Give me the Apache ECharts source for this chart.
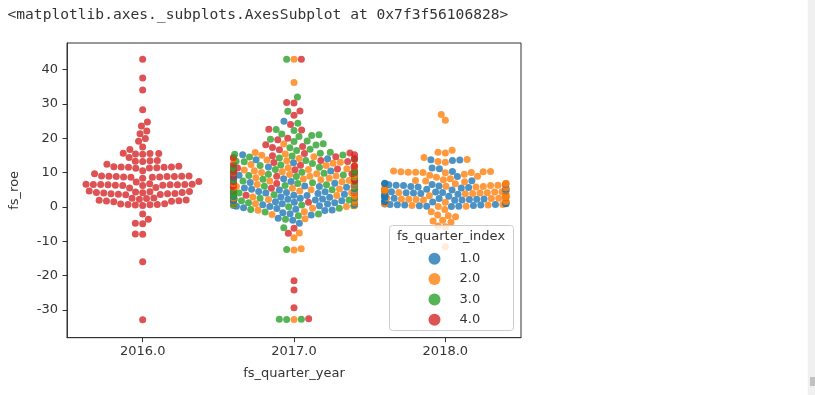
<!DOCTYPE html>
<html><head><meta charset="utf-8">
<script src="https://cdn.jsdelivr.net/npm/echarts@6/dist/echarts.min.js"></script>
<style>html,body{margin:0;padding:0;background:#fff}#c{width:815px;height:395px}</style>
</head><body><div id="c"></div>
<script>
// ---------- data ----------
const years = ['2016.0', '2017.0', '2018.0'];
const quarters = ['1.0', '2.0', '3.0', '4.0'];
const quarterColors = ['#1f77b4', '#ff7f0e', '#2ca02c', '#d62728'];
const yTicks = [-30, -20, -10, 0, 10, 20, 30, 40];

// fs_roe values, 2016 (only quarter 4.0)
const roe2016_q4 = [43.0, 37.5, 34.0, 28.3, 24.7, 23.5, 22.1, 21.3, 19.9, 19.1, 17.4, 16.7,
  15.6, 15.5, 15.5, 15.4, 15.3, 14.4, 13.5, 13.4, 13.3, 13.2, 12.4,
  11.8, 11.7, 11.6, 11.6, 11.5, 11.5, 11.4, 11.3, 11.2, 10.5, 9.6,
  9.0, 9.0, 8.9, 8.9, 8.8, 8.8, 8.8, 8.7, 8.7, 8.6, 8.6, 8.3,
  7.4, 7.2, 6.7, 6.6, 6.6, 6.5, 6.5, 6.5, 6.4, 6.4, 6.4, 6.3, 6.3, 6.2, 6.2,
  5.6, 5.5, 4.6, 4.5, 4.4, 4.3, 4.2, 4.2, 4.1, 4.0, 3.9, 3.8, 3.8, 3.7, 3.6, 3.5,
  2.6, 2.5, 2.4, 2.2, 2.0, 1.9, 1.8, 1.7, 1.6, 1.5,
  0.9, 0.8, 0.7, 0.7, 0.6, 0.5, 0.4,
  -2.1, -3.6, -4.8, -4.9, -7.9, -8.0, -16.0, -32.9];

// 2017
const roe2017_q1 = [24.9, 15.2, 14.0, 13.7, 12.8,
  11.6, 10.4, 9.7, 9.2, 8.7, 8.2, 7.8, 7.4, 7.1, 6.9, 6.6, 6.3, 6.1, 5.9, 5.7, 5.5, 5.3, 5.1,
  4.9, 4.7, 4.5, 4.4, 4.2, 4.0, 3.9, 3.7, 3.6, 3.4, 3.3, 3.1, 3.0, 2.9, 2.8, 2.6, 2.5, 2.3, 2.2, 2.0,
  1.9, 1.8, 1.6, 1.5, 1.3, 1.2, 1.0, 0.9, 0.8, 0.7, 0.6, 0.4, 0.3, 0.2, 0.1,
  -0.3, -0.5, -0.7, -0.9, -1.1, -1.7, -2.0, -2.4, -3.3, -3.9, -4.8];
const roe2017_q2 = [43.0, 36.2, 18.3, 15.8, 15.4, 15.0, 14.6, 14.3, 14.1, 13.9, 13.6, 13.4, 13.0, 12.7,
  12.3, 12.0, 11.8, 11.4, 11.1, 10.9, 10.7, 10.5, 10.2, 10.0, 9.9, 9.6, 9.4, 9.2, 9.0,
  8.9, 8.7, 8.5, 8.3, 8.1, 7.9, 7.7, 7.5, 7.3, 7.1, 6.9, 6.7, 6.5, 6.3, 6.1,
  5.9, 5.7, 5.4, 5.2, 5.0, 4.8, 4.6, 4.3, 4.1, 3.8, 3.6, 3.3, 3.1, 2.9, 2.6, 2.4, 2.1,
  1.9, 1.6, 1.4, 1.1, 0.9, 0.6, 0.4, 0.1,
  -0.4, -1.0, -1.4, -2.2, -3.5, -7.6, -9.0, -12.2, -12.6, -32.8];
const roe2017_q3 = [43.0, 32.0, 27.8, 24.3, 22.5, 22.2, 21.2, 21.0, 20.8, 20.5, 19.7, 19.2, 19.0, 18.4, 18.0, 17.2, 16.8, 16.4,
  15.9, 15.6, 15.3, 15.1, 14.8, 14.5, 14.2, 14.0, 13.5, 13.3, 13.1, 12.6,
  12.2, 12.0, 11.7, 11.5, 11.2, 10.9, 10.6, 10.4, 10.1, 10.0, 9.8, 9.5, 9.3, 9.1, 9.0,
  8.8, 8.6, 8.4, 8.2, 8.0, 7.8, 7.5, 7.2, 7.0, 6.8, 6.4, 6.2, 6.0, 5.8, 5.5, 5.3, 5.0,
  4.8, 4.5, 4.2, 4.0, 3.7, 3.5, 3.2, 3.0, 2.8, 2.5, 2.3, 2.0, 1.8, 1.5, 1.2, 1.0, 0.8, 0.5, 0.3, 0.0,
  -0.4, -0.8, -1.5, -2.1, -2.6, -3.6, -6.1, -12.4, -32.8, -32.7, -32.7];
const roe2017_q4 = [43.0, 30.4, 30.2, 27.9, 26.7, 24.0, 22.6, 22.4, 20.0, 19.5, 18.1, 17.6, 17.3, 16.6,
  15.7, 15.5, 15.2, 14.9, 14.6, 14.4, 14.1, 13.8, 13.5, 13.2, 12.9,
  12.4, 12.1, 11.9, 11.6, 11.3, 11.0, 10.8, 10.5, 10.3, 10.1, 9.9, 9.6, 9.3, 9.1,
  8.9, 8.6, 8.3, 8.0, 7.9, 7.6, 7.3, 7.0, 6.8, 6.5, 6.2, 5.8, 5.4, 4.7, 4.2, 3.4, 2.5, 1.3,
  -6.2, -7.7, -21.5, -24.2, -29.4, -32.6];

// 2018
const roe2018_q1 = [13.7, 13.6, 13.5, 11.3, 11.1, 10.3, 8.8, 7.6,
  6.9, 6.8, 6.6, 6.5, 6.4, 6.3, 6.2, 6.1,
  5.9, 5.8, 5.6, 5.5, 5.3, 5.2, 5.1,
  4.9, 4.8, 4.7, 4.5, 4.4, 4.3, 4.2, 4.1, 4.0,
  3.9, 3.7, 3.6, 3.4, 3.3, 3.1, 3.0,
  2.9, 2.8, 2.7, 2.5, 2.4, 2.3, 2.2, 2.1, 2.0,
  1.9, 1.8, 1.6, 1.5, 1.4, 1.2, 1.1, 1.0,
  0.9, 0.8, 0.7, 0.7, 0.6, 0.5, 0.5, 0.4, 0.3, 0.2, 0.2, 0.1];
const roe2018_q2 = [26.9, 25.2, 16.5, 15.9, 15.7, 14.4, 13.8, 13.2, 13.0,
  10.4, 10.3, 10.2, 10.2, 10.1, 10.1, 10.0, 10.0, 9.9,
  9.5, 9.2, 8.9, 8.6, 8.2,
  7.9, 7.7, 7.5, 7.3,
  6.9, 6.8, 6.7, 6.5, 6.4, 6.3, 6.2, 6.0,
  5.9, 5.8, 5.6, 5.5, 5.4, 5.2, 5.0,
  4.9, 4.8, 4.6, 4.5, 4.4, 4.3, 4.2, 4.1, 4.0,
  3.9, 3.8, 3.6, 3.5, 3.3, 3.2, 3.0,
  2.9, 2.8, 2.6, 2.5, 2.4, 2.3, 2.2, 2.1, 2.0,
  1.8, 1.6, 1.5, 1.3, 1.1, 1.0,
  0.9, 0.7, 0.5, 0.4, 0.2, 0.1,
  -0.8, -1.4, -2.4, -2.6, -2.9, -3.9, -4.1, -4.5, -5.6, -5.8, -11.6];

// which values belong to which year / quarter
const groups = [
  { year: 0, quarter: 3, values: roe2016_q4 },
  { year: 1, quarter: 0, values: roe2017_q1 },
  { year: 1, quarter: 1, values: roe2017_q2 },
  { year: 1, quarter: 2, values: roe2017_q3 },
  { year: 1, quarter: 3, values: roe2017_q4 },
  { year: 2, quarter: 0, values: roe2018_q1 },
  { year: 2, quarter: 1, values: roe2018_q2 }
];

// ---------- chart ----------
const FONT = 'DejaVu Sans';
const TXT = '#333333';
const chart = echarts.init(document.getElementById('c'), null, { renderer: 'canvas' });

const yearSeries = years.map((y, i) => ({
  type: 'scatter', name: 'year' + y, xAxisIndex: 1, yAxisIndex: 0,
  symbol: 'circle', symbolSize: 7, silent: true, z: 2, data: []
}));
const legendSeries = quarters.map((q, i) => ({
  type: 'scatter', name: q, xAxisIndex: 1, yAxisIndex: 0, symbol: 'circle',
  itemStyle: { color: quarterColors[i] }, data: []
}));

chart.setOption({
  animation: false,
  backgroundColor: '#ffffff',
  grid: { left: 67, right: 294, top: 43, bottom: 57.3, show: true, borderColor: '#333', borderWidth: 1, containLabel: false },
  xAxis: [
    {
      type: 'category', data: years, boundaryGap: true,
      name: 'fs_quarter_year', nameLocation: 'middle', nameGap: 29,
      nameTextStyle: { fontFamily: FONT, fontSize: 13, color: TXT },
      axisLine: { show: true, onZero: false, lineStyle: { color: '#333', width: 1 } },
      axisTick: { show: true, alignWithLabel: true, length: 4.5, lineStyle: { color: '#333' } },
      axisLabel: { margin: 7, color: TXT, fontSize: 13, fontFamily: FONT },
      splitLine: { show: false }
    },
    { type: 'value', min: -0.5, max: 2.5, show: false, axisLine: { onZero: false }, splitLine: { show: false } }
  ],
  yAxis: {
    type: 'value', min: -38.1, max: 47.7,
    name: 'fs_roe', nameLocation: 'middle', nameGap: 46,
    nameTextStyle: { fontFamily: FONT, fontSize: 13, color: TXT },
    axisLine: { show: true, onZero: false, lineStyle: { color: '#333', width: 1 } },
    axisTick: { show: true, length: 4.5, customValues: yTicks, lineStyle: { color: '#333' } },
    axisLabel: { customValues: yTicks, margin: 9, color: TXT, fontSize: 13, fontFamily: FONT },
    splitLine: { show: false }
  },
  legend: {
    data: quarters, orient: 'vertical', left: 423.5, top: 247.3,
    itemWidth: 40, itemHeight: 12, itemGap: 7.3, icon: 'circle', selectedMode: false, z: 60,
    textStyle: { fontFamily: FONT, fontSize: 13, color: TXT, lineHeight: 12 }
  },
  graphic: [
    { type: 'rect', z: 50, shape: { x: 389.5, y: 225.5, width: 124, height: 105, r: 3 },
      style: { fill: 'rgba(255,255,255,0.8)', stroke: '#cccccc', lineWidth: 1 } },
    { type: 'text', z: 55, style: { text: 'fs_quarter_index', x: 451, y: 237, textAlign: 'center', align: 'center',
      textVerticalAlign: 'middle', verticalAlign: 'middle', font: '13px "DejaVu Sans"', fill: TXT } },
    { type: 'text', z: 55, style: { text: '<matplotlib.axes._subplots.AxesSubplot at 0x7f3f56106828>', x: 7.5, y: 15,
      textVerticalAlign: 'middle', verticalAlign: 'middle', font: '14.6px "DejaVu Sans Mono"', fill: '#333' } },
    { type: 'rect', z: 55, shape: { x: 807.7, y: 0, width: 8, height: 395 }, style: { fill: '#f0f0f0' } },
    { type: 'rect', z: 56, shape: { x: 810, y: 377, width: 5, height: 9 }, style: { fill: '#c1c1c1' } }
  ],
  series: yearSeries.concat(legendSeries)
});

// ---------- swarm layout (seaborn-style beeswarm, computed in pixel space) ----------
const finder = { xAxisIndex: 1, yAxisIndex: 0 };
const D = 7.0;
const p0 = chart.convertToPixel(finder, [0, 0]);
const p1 = chart.convertToPixel(finder, [1, 0]);
const pxPerCat = p1[0] - p0[0];
const halfWidth = 0.4 * pxPerCat;

function beeswarm(pts, mid) {
  const placed = [];
  for (const p of pts) {
    const nb = placed.filter(q => Math.abs(q.py - p.py) < D);
    const cands = [mid];
    for (const q of nb) {
      const dy = p.py - q.py;
      const dx = Math.sqrt(D * D - dy * dy) * 1.05;
      cands.push(q.px - dx, q.px + dx);
    }
    const order = cands.map((c, i) => i).sort((a, b) =>
      (Math.abs(cands[a] - mid) - Math.abs(cands[b] - mid)) || (a - b));
    let chosen = mid;
    for (const i of order) {
      const c = cands[i];
      let ok = true;
      for (const q of nb) {
        const dx = q.px - c, dy = q.py - p.py;
        if (dx * dx + dy * dy < D * D - 1e-6) { ok = false; break; }
      }
      if (ok) { chosen = c; break; }
    }
    placed.push(Object.assign({}, p, { px: chosen }));
  }
  // gutters: clip to the category width
  placed.forEach(q => {
    if (q.px < mid - halfWidth) q.px = mid - halfWidth;
    if (q.px > mid + halfWidth) q.px = mid + halfWidth;
  });
  return placed;
}

const seriesData = years.map(() => []);
years.forEach((y, yi) => {
  const pts = [];
  groups.filter(g => g.year === yi).forEach(g => {
    g.values.forEach(v => {
      const pix = chart.convertToPixel(finder, [yi, v]);
      pts.push({ v: v, q: g.quarter, py: pix[1], mid: pix[0] });
    });
  });
  pts.sort((a, b) => a.v - b.v);
  if (!pts.length) return;
  const mid = pts[0].mid;
  const placed = beeswarm(pts, mid);
  placed.forEach(q => {
    const xd = yi + (q.px - mid) / pxPerCat;
    seriesData[yi].push({ value: [xd, q.v], itemStyle: { color: quarterColors[q.q] } });
  });
});

chart.setOption({ series: seriesData.map(d => ({ data: d })).concat(quarters.map(() => ({}))) });
</script>
</body></html>
